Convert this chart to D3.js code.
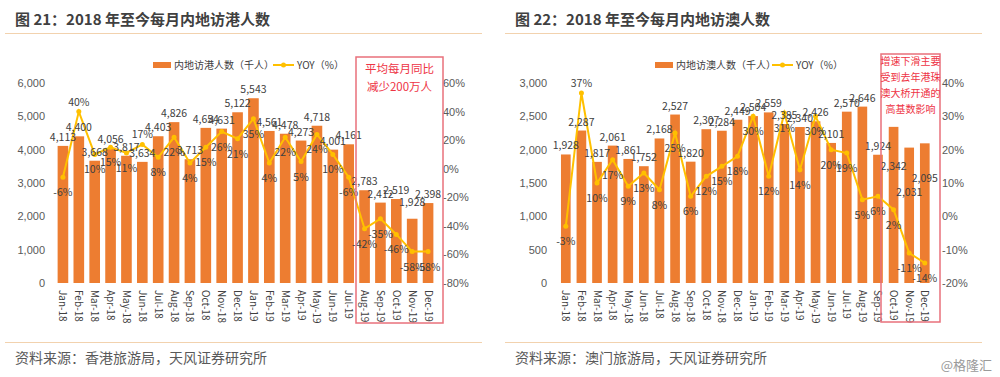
<!DOCTYPE html>
<html>
<head>
<meta charset="utf-8">
<script src="https://cdn.jsdelivr.net/npm/d3@7"></script>
<style>
  body { margin: 0; background: #fff; }
  svg { display: block; font-family: "Noto Sans CJK SC", "Noto Sans", sans-serif; }
  .tick text { fill: #595959; font-size: 11px; }
</style>
</head>
<body>
<svg id="chart" width="1000" height="377"></svg>
<script>
// Months shared by both charts
const months = ["Jan-18","Feb-18","Mar-18","Apr-18","May-18","Jun-18","Jul-18","Aug-18","Sep-18","Oct-18","Nov-18","Dec-18",
                "Jan-19","Feb-19","Mar-19","Apr-19","May-19","Jun-19","Jul-19","Aug-19","Sep-19","Oct-19","Nov-19","Dec-19"];

// Figure 21: mainland visitors to Hong Kong (thousand) and YoY (%)
const hkVisitors = [4113,4400,3668,4056,3817,3634,4403,4826,3713,4654,4631,5122,
                    5543,4561,4478,4273,4718,4001,4161,2783,2412,2519,1928,2398];
const hkYoy = [-6,40,10,15,11,17,8,22,4,15,26,21,
               35,4,22,5,24,10,-6,-42,-35,-46,-58,-58];
const hkLeftTicks = [0,1000,2000,3000,4000,5000,6000];
const hkRightTicks = [-80,-60,-40,-20,0,20,40,60];

// Figure 22: mainland visitors to Macau (thousand) and YoY (%)
const moVisitors = [1928,2287,1817,2061,1861,1752,2168,2527,1820,2307,2284,2449,
                    2504,2559,2385,2340,2426,2101,2570,2646,1924,2342,2031,2095];
const moYoy = [-3,37,10,17,9,13,8,25,6,12,15,18,
               30,12,31,14,30,20,19,5,6,2,-11,-14];
const moLeftTicks = [0,500,1000,1500,2000,2500,3000];
const moRightTicks = [-20,-10,0,10,20,30,40];

const barColor = "#ED7D31";
const lineColor = "#FFC000";
const boxColor = "#E9707B";
const boxText = "#EE3344";

const svg = d3.select("#chart");

function drawPanel(p) {
    const g = svg.append("g");

    // title and rules
    g.append("text")
        .attr("x", p.x0 + 15).attr("y", 25)
        .attr("font-size", 15).attr("font-weight", "bold").attr("fill", "#404040")
        .text(p.title);
    g.append("line")
        .attr("x1", p.x0 + 5).attr("x2", p.x0 + 482).attr("y1", 33.5).attr("y2", 33.5)
        .attr("stroke", "#F2D2AE").attr("stroke-width", 1.2);
    g.append("line")
        .attr("x1", p.x0 + 5).attr("x2", p.x0 + 482).attr("y1", 342.5).attr("y2", 342.5)
        .attr("stroke", "#F2D2AE").attr("stroke-width", 1.2);
    g.append("text")
        .attr("x", p.x0 + 15).attr("y", 363)
        .attr("font-size", 14).attr("fill", "#595959")
        .text(p.source);

    // scales
    const x = d3.scaleBand()
        .domain(months)
        .range(p.xRange)
        .paddingInner(p.pad).paddingOuter(p.pad / 2);
    const y = d3.scaleLinear().domain(d3.extent(p.leftTicks)).range([283, 83]);
    const y2 = d3.scaleLinear().domain(d3.extent(p.rightTicks)).range([283, 83]);

    // axes
    g.append("g")
        .attr("transform", `translate(${p.leftAxisX},0)`)
        .call(d3.axisLeft(y).tickValues(p.leftTicks).tickSize(0).tickPadding(0).tickFormat(d3.format(",")))
        .call(a => a.select(".domain").remove());
    g.append("g")
        .attr("transform", `translate(${p.rightAxisX},0)`)
        .call(d3.axisRight(y2).tickValues(p.rightTicks).tickSize(0).tickPadding(0).tickFormat(d => d + "%"))
        .call(a => a.select(".domain").remove());

    // x labels, rotated
    g.selectAll(".xlab")
        .data(months)
        .enter().append("text")
        .attr("class", "xlab")
        .attr("transform", d => `translate(${x(d) + x.bandwidth() / 2 - 3.5},290) rotate(90)`)
        .attr("font-size", 10).attr("fill", "#404040")
        .text(d => d);

    // bars
    g.selectAll(".bar")
        .data(p.bars)
        .enter().append("rect")
        .attr("class", "bar")
        .attr("x", (d, i) => x(months[i]))
        .attr("width", x.bandwidth())
        .attr("y", d => y(d))
        .attr("height", d => y(0) - y(d))
        .attr("fill", barColor);

    // yoy line
    const line = d3.line()
        .x((d, i) => x(months[i]) + x.bandwidth() / 2)
        .y(d => y2(d));
    g.append("path")
        .datum(p.yoy)
        .attr("d", line)
        .attr("fill", "none").attr("stroke", lineColor).attr("stroke-width", 2);
    g.selectAll(".dot")
        .data(p.yoy)
        .enter().append("circle")
        .attr("cx", (d, i) => x(months[i]) + x.bandwidth() / 2)
        .attr("cy", d => y2(d))
        .attr("r", 2.5)
        .attr("fill", lineColor);

    // bar labels
    g.selectAll(".blab")
        .data(p.bars)
        .enter().append("text")
        .attr("x", (d, i) => x(months[i]) + x.bandwidth() / 2)
        .attr("y", (d, i) => y(d) - 5 + (p.barLabelShift[i] || 0))
        .attr("text-anchor", "middle")
        .attr("font-size", 10.5).attr("fill", "#404040")
        .text(d => d3.format(",")(d));

    // yoy labels
    g.selectAll(".ylab")
        .data(p.yoy)
        .enter().append("text")
        .attr("x", (d, i) => x(months[i]) + x.bandwidth() / 2)
        .attr("y", (d, i) => y2(d) + (p.yoyAbove.includes(i) ? -6 : 19))
        .attr("text-anchor", "middle")
        .attr("font-size", 10.5).attr("fill", "#404040")
        .text(d => d + "%");

    // legend
    const lg = g.append("g").attr("transform", `translate(${p.legendX},65)`);
    lg.append("rect").attr("x", 0).attr("y", -3).attr("width", 18).attr("height", 6).attr("fill", barColor);
    lg.append("text").attr("x", 21).attr("y", 4).attr("font-size", 10).attr("fill", "#404040").text(p.barName);
    lg.append("line").attr("x1", p.legendGap).attr("x2", p.legendGap + 21).attr("y1", 0).attr("y2", 0)
        .attr("stroke", lineColor).attr("stroke-width", 2);
    lg.append("circle").attr("cx", p.legendGap + 10.5).attr("cy", 0).attr("r", 2.5).attr("fill", lineColor);
    lg.append("text").attr("x", p.legendGap + 24).attr("y", 4).attr("font-size", 10).attr("fill", "#404040").text("YOY（%）");

    // highlight box
    const b = p.box;
    g.append("rect")
        .attr("x", b.x).attr("y", b.y).attr("width", b.w).attr("height", b.h)
        .attr("fill", "none").attr("stroke", boxColor).attr("stroke-width", 1.5);
    g.selectAll(".boxt")
        .data(b.lines)
        .enter().append("text")
        .attr("x", b.x + b.w / 2)
        .attr("y", (d, i) => b.ty + i * b.lh)
        .attr("text-anchor", "middle")
        .attr("font-size", b.fs).attr("fill", boxText)
        .text(d => d);
}

drawPanel({
    x0: 0,
    title: "图 21：2018 年至今每月内地访港人数",
    source: "资料来源：香港旅游局，天风证券研究所",
    xRange: [55, 436], pad: 0.33,
    leftAxisX: 45, rightAxisX: 443,
    leftTicks: hkLeftTicks, rightTicks: hkRightTicks,
    bars: hkVisitors, yoy: hkYoy,
    barLabelShift: {22: -8},
    yoyAbove: [1, 5],
    legendX: 153, legendGap: 120,
    barName: "内地访港人数（千人）",
    box: { x: 356, y: 57, w: 87, h: 266, ty: 73, lh: 18, fs: 11.5,
           lines: ["平均每月同比", "减少200万人"] }
});

drawPanel({
    x0: 500,
    title: "图 22：2018 年至今每月内地访澳人数",
    source: "资料来源：澳门旅游局，天风证券研究所",
    xRange: [558, 932.6], pad: 0.38,
    leftAxisX: 547, rightAxisX: 942,
    leftTicks: moLeftTicks, rightTicks: moRightTicks,
    bars: moVisitors, yoy: moYoy,
    barLabelShift: {21: 48, 22: 53, 23: 44},
    yoyAbove: [1],
    legendX: 655, legendGap: 117,
    barName: "内地访澳人数（千人）",
    box: { x: 881, y: 54, w: 59, h: 268, ty: 65, lh: 16, fs: 10,
           lines: ["增速下滑主要", "受到去年港珠", "澳大桥开通的", "高基数影响"] }
});

// watermark
svg.append("text")
    .attr("x", 992).attr("y", 370)
    .attr("text-anchor", "end")
    .attr("font-size", 13).attr("fill", "#9a9a9a")
    .text("@格隆汇");
</script>
</body>
</html>
